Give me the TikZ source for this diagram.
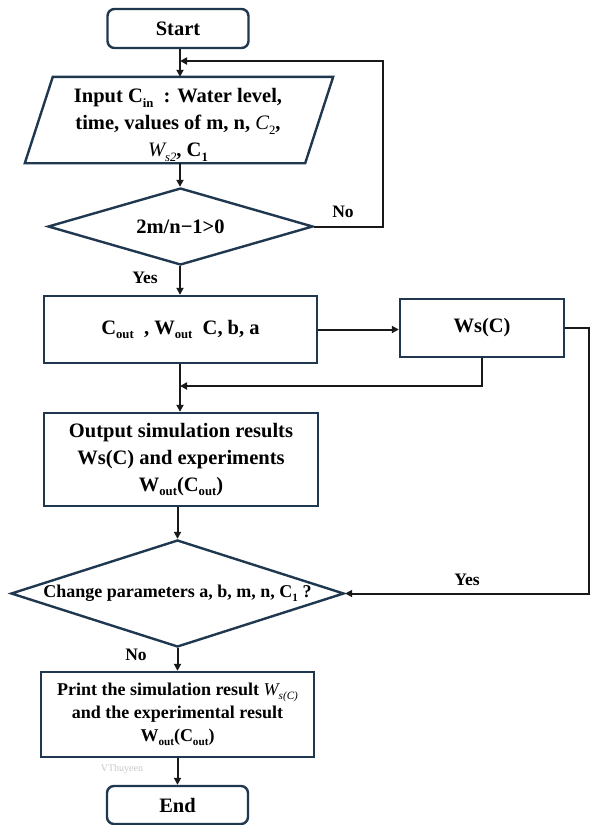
\documentclass[tikz,border=0pt]{standalone}
\usepackage{fontspec}
\setmainfont{Liberation Serif}
\usetikzlibrary{arrows.meta,shapes.geometric,calc}
\definecolor{bordercol}{RGB}{31,56,80}
\newcommand{\lo}[1]{\raisebox{-0.45ex}{\scalebox{0.62}{#1}}}
\begin{document}
\begin{tikzpicture}[x=1pt,y=-1pt,
  box/.style={draw=bordercol, line width=2.4pt, fill=white, inner sep=0pt},
  term/.style={box, rounded corners=7pt},
  dia/.style={draw=bordercol, line width=2.4pt, diamond, inner sep=0pt},
  txt/.style={font=\fontsize{20.5}{27}\selectfont\bfseries, align=center, inner sep=0pt},
  smalltxt/.style={font=\fontsize{18}{23}\selectfont\bfseries, align=center, inner sep=0pt},
  arr/.style={draw=black!90, line width=2pt, -{Triangle[length=7pt,width=7pt]}},
  lab/.style={font=\fontsize{17.5}{20}\selectfont\bfseries, inner sep=0pt}]
\useasboundingbox[fill=white] (0,0) rectangle (591,825);

% nodes
\node[term, txt, minimum width=141pt, minimum height=39pt] (start) at (178,28.5) {Start};

\node[inner sep=0pt, minimum width=280pt, minimum height=86pt] (input) at (179,120) {};
\draw[box] ($(input.north west)+(14,0)$) -- ($(input.north east)+(14,0)$)
  -- ($(input.south east)+(-14,0)$) -- ($(input.south west)+(-14,0)$) -- cycle;
\node[txt] (inputtxt) at (178,125) {Input C\lo{in}\ \ : Water level,\\
  time, values of m, n, {\mdseries\itshape C}\lo{\mdseries 2},\\
  {\mdseries\itshape W}\lo{\mdseries\itshape s2}, C\lo{1}};

\node[dia, minimum width=265pt, minimum height=77pt] (d1) at (180.5,226.5) {};
\node[txt] (d1txt) at (d1) {2m/n−1>0};

\node[box, txt, minimum width=273pt, minimum height=67pt] (r1) at (180.5,329.5)
  {C\lo{out}\ \ , W\lo{out}\ \ C, b, a};
\node[box, txt, minimum width=164pt, minimum height=58pt] (ws) at (482,328) {Ws(C)};

\node[box, txt, minimum width=274pt, minimum height=93pt] (out) at (181,459.5)
  {Output simulation results\\ Ws(C) and experiments\\ W\lo{out}(C\lo{out})};

\node[dia, minimum width=333pt, minimum height=107pt] (d2) at (177.5,593.5) {};
\node[smalltxt] (d2txt) at (d2) {Change parameters a, b, m, n, C\lo{1} ?};

\node[box, smalltxt, minimum width=273pt, minimum height=85pt] (print) at (177.5,714.5)
  {Print the simulation result {\mdseries\itshape W}\lo{\mdseries\itshape s(C)}\\
   and the experimental result\\ W\lo{out}(C\lo{out})};

\node[font=\fontsize{10}{10}\selectfont, text=black!22, inner sep=0pt] (wm) at (122,769) {VThuyeen};

\node[term, txt, minimum width=141pt, minimum height=38pt] (stop) at (177.5,805) {End};

% labels
\node[lab] (no1) at (343,212) {No};
\node[lab] (yes1) at (145,278) {Yes};
\node[lab] (yes2) at (467,580) {Yes};
\node[lab] (no2) at (136,655) {No};

% connectors
\coordinate (fb) at (180,61);
\coordinate (nocorner) at (383,61);
\coordinate (wsright) at (589,328);
\coordinate (join) at (180,386);

\draw[arr] (start.south -| fb) -- (input.north -| fb);
\draw[arr] (input.south -| fb) -- (d1.north -| fb);
\draw[arr] (d1.east) -| (nocorner) -- (fb);
\draw[arr] (d1.south -| fb) -- (r1.north -| fb);
\draw[arr] (r1.east) -- (r1.east -| ws.west);
\draw[arr] (ws.east) -- (wsright) |- (d2.east);
\draw[arr] (ws.south) |- (join);
\draw[arr] (r1.south -| join) -- (out.north -| join);
\draw[arr] (out.south -| d2.north) -- (d2.north);
\draw[arr] (d2.south) -- (print.north -| d2.south);
\draw[arr] (print.south) -- (stop.north -| print.south);
\end{tikzpicture}
\end{document}
